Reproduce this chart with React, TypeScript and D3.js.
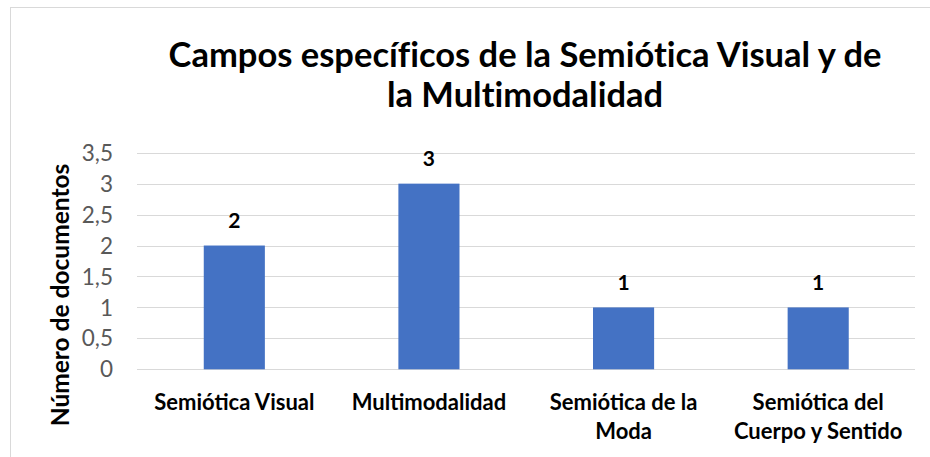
import { useRef, useEffect } from "react";
import * as d3 from "d3";

const categories = ["Semiótica Visual", "Multimodalidad", "Semiótica de la Moda", "Semiótica del Cuerpo y Sentido"];
const values = [2, 3, 1, 1];
const yTicks = [0, 0.5, 1, 1.5, 2, 2.5, 3, 3.5];
const titleLines = ["Campos específicos de la Semiótica Visual y de", "la Multimodalidad"];
const yTitle = "Número de documentos";

const FONT = "Lato, 'Open Sans', sans-serif";

function wrapWords(text: string, maxWidth: number, font: string) {
  const ctx = document.createElement("canvas").getContext("2d")!;
  ctx.font = font;
  const words = text.split(" ");
  const lines: string[] = [];
  let cur = "";
  for (const w of words) {
    const next = cur ? cur + " " + w : w;
    if (cur && ctx.measureText(next).width > maxWidth) {
      lines.push(cur);
      cur = w;
    } else {
      cur = next;
    }
  }
  if (cur) lines.push(cur);
  return lines;
}

function BarChart() {
  const svgRef = useRef<SVGSVGElement>(null);

  useEffect(() => {
    const width = 930;
    const height = 457;
    const svg = d3.select(svgRef.current);
    svg.selectAll("*").remove();

    const margin = { left: 137, right: 15, top: 152.7, bottom: 87.7 };
    const plotBottom = height - margin.bottom;

    // chart frame (only top/left edges fall inside the picture)
    svg.append("rect")
      .attr("x", 10.5).attr("y", 7.5)
      .attr("width", 940).attr("height", 470)
      .attr("fill", "#fff")
      .attr("stroke", "#d9d9d9")
      .attr("stroke-width", 1);

    const x = d3.scaleBand<string>()
      .domain(categories)
      .range([margin.left, width - margin.right + 0.5])
      .paddingInner(0.686)
      .paddingOuter(0.343);

    const y = d3.scaleLinear().domain([0, 3.5]).range([plotBottom, margin.top]);

    // grid
    svg.append("g")
      .selectAll("line")
      .data(yTicks)
      .join("line")
      .attr("x1", margin.left).attr("x2", width - margin.right)
      .attr("y1", d => Math.round(y(d)) + 0.5).attr("y2", d => Math.round(y(d)) + 0.5)
      .attr("stroke", "#d9d9d9")
      .attr("stroke-width", 1.2);

    // tick labels
    svg.append("g")
      .selectAll("text")
      .data(yTicks)
      .join("text")
      .attr("x", 113)
      .attr("y", d => y(d))
      .attr("dy", "0.36em")
      .attr("text-anchor", "end")
      .attr("font-family", FONT)
      .attr("font-size", 22.5)
      .attr("fill", "#595959")
      .text(d => String(d).replace(".", ","));

    // bars
    svg.append("g")
      .selectAll("rect")
      .data(values)
      .join("rect")
      .attr("x", (d, i) => x(categories[i])!)
      .attr("width", x.bandwidth())
      .attr("y", d => y(d))
      .attr("height", d => y(0) - y(d))
      .attr("fill", "#4472C4");

    // data labels
    svg.append("g")
      .selectAll("text")
      .data(values)
      .join("text")
      .attr("x", (d, i) => x(categories[i])! + x.bandwidth() / 2)
      .attr("y", d => y(d) - 17.5)
      .attr("text-anchor", "middle")
      .attr("font-family", FONT)
      .attr("font-weight", "bold")
      .attr("font-size", 21)
      .attr("fill", "#000")
      .text(d => d);

    // category labels
    const catSize = 22;
    const catFont = `bold ${catSize}px Lato`;
    categories.forEach(c => {
      const lines = wrapWords(c, 180, catFont);
      const t = svg.append("text")
        .attr("text-anchor", "middle")
        .attr("font-family", FONT)
        .attr("font-weight", "bold")
        .attr("font-size", catSize)
        .attr("fill", "#000");
      lines.forEach((l, i) => {
        t.append("tspan")
          .attr("x", x(c)! + x.bandwidth() / 2)
          .attr("y", plotBottom + 41 + i * 28.5)
          .text(l);
      });
    });

    // y title
    svg.append("text")
      .attr("transform", `translate(69,295) rotate(-90)`)
      .attr("text-anchor", "middle")
      .attr("font-family", FONT)
      .attr("font-weight", "bold")
      .attr("font-size", 24.5)
      .attr("fill", "#000")
      .text(yTitle);

    // title
    titleLines.forEach((l, i) => {
      svg.append("text")
        .attr("x", 525)
        .attr("y", 66.5 + i * 40)
        .attr("text-anchor", "middle")
        .attr("font-family", FONT)
        .attr("font-weight", "bold")
        .attr("font-size", 34.5)
        .attr("fill", "#000")
        .style("font-variant-ligatures", "none")
        .text(l);
    });
  }, []);

  return (
    <svg
      ref={svgRef}
      width={930}
      height={457}
      style={{ position: "absolute", left: 0, top: 0, display: "block", background: "#fff" }}
    />
  );
}

export default function App() {
  return <BarChart />;
}
